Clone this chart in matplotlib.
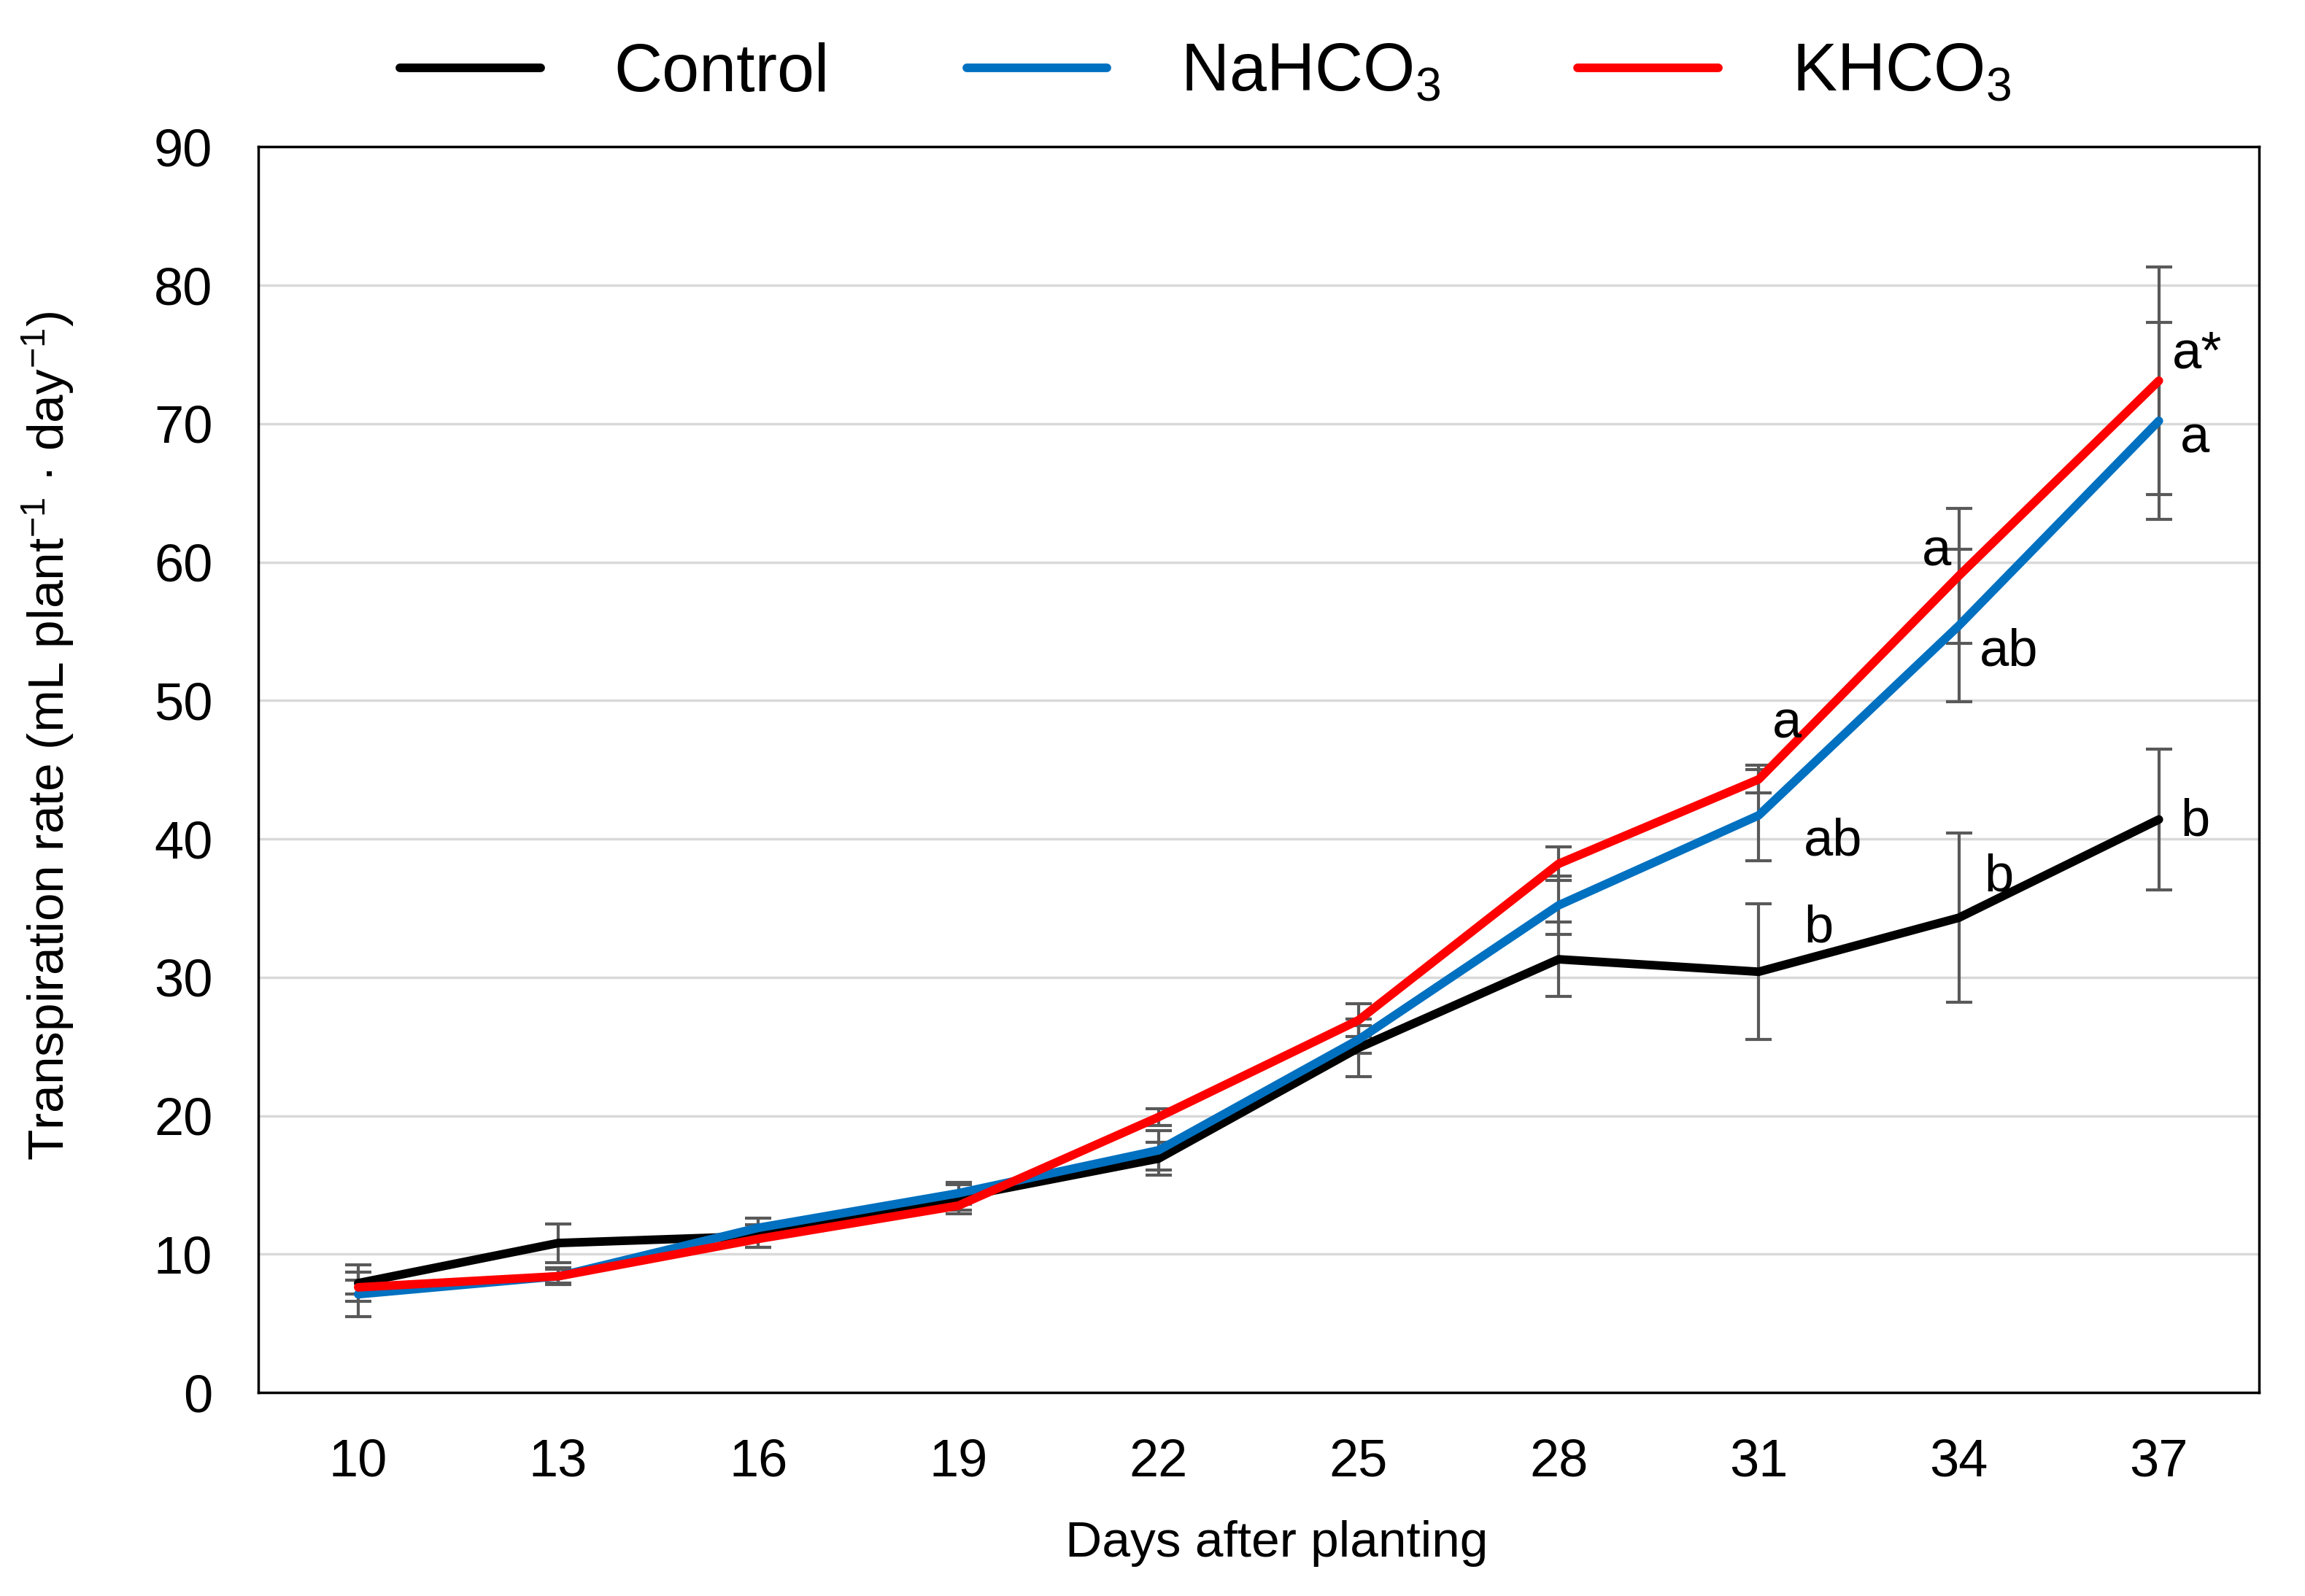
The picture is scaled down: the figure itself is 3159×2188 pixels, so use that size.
import matplotlib
matplotlib.use("Agg")
import matplotlib.pyplot as plt
import numpy as np

plt.rcParams['font.family'] = ['Liberation Sans', 'DejaVu Sans']
plt.rcParams['mathtext.fontset'] = 'custom'
plt.rcParams['mathtext.rm'] = 'Liberation Sans'
plt.rcParams['mathtext.it'] = 'Liberation Sans:italic'

days = [10, 13, 16, 19, 22, 25, 28, 31, 34, 37]

control = [7.9, 10.8, 11.3, 14.1, 16.9, 24.9, 31.3, 30.4, 34.3, 41.4]
control_sd = [1.3, 1.4, 0.8, 0.9, 1.2, 2.1, 2.7, 4.9, 6.1, 5.1]

nahco3 = [7.1, 8.4, 11.9, 14.4, 17.5, 25.5, 35.2, 41.7, 55.4, 70.2]
nahco3_sd = [1.6, 0.6, 0.7, 0.8, 1.4, 1.0, 2.1, 3.3, 5.5, 7.1]

khco3 = [7.6, 8.4, 11.1, 13.5, 19.9, 26.9, 38.2, 44.3, 59.0, 73.1]
khco3_sd = [0.5, 0.5, 0.6, 0.6, 0.6, 1.2, 1.2, 1.0, 4.9, 8.2]

# significance letters: (text, x in days, y)
letters = [
    ("a*", 37.57, 75.0),
    ("a", 37.54, 68.9),
    ("a", 33.67, 60.7),
    ("ab", 34.75, 53.5),
    ("a", 31.42, 48.3),
    ("ab", 32.11, 39.8),
    ("b", 31.9, 33.5),
    ("b", 34.6, 37.2),
    ("b", 37.54, 41.2),
]

fig = plt.figure(figsize=(31.59, 21.88), dpi=100)
ax = fig.add_axes([0.112, 0.1275, 0.868, 0.7805])

series = [
    ("Control", control, control_sd, "black"),
    ("NaHCO$_3$", nahco3, nahco3_sd, "#0070c0"),
    ("KHCO$_3$", khco3, khco3_sd, "#ff0000"),
]

for name, vals, sd, col in series:
    ax.errorbar(days, vals, yerr=sd, fmt='none', ecolor='#595959',
                elinewidth=3, capsize=13, capthick=3, zorder=2)
for name, vals, sd, col in series:
    ax.plot(days, vals, color=col, linewidth=8.5, label=name, zorder=3,
            solid_capstyle='round', solid_joinstyle='round')

for txt, xx, yy in letters:
    ax.text(xx, yy, txt, fontsize=52, ha='center', va='center', zorder=4)

ax.set_xlim(8.5, 38.5)
ax.set_ylim(0, 90)
ax.set_xticks(days)
ax.set_yticks(np.arange(0, 91, 10))
ax.tick_params(axis='both', length=0, pad=45, labelsize=52)
ax.yaxis.grid(True, color='#d9d9d9', linewidth=2.5)
ax.set_axisbelow(True)
for sp in ax.spines.values():
    sp.set_linewidth(2.5)
    sp.set_color('black')

ax.set_xlabel("Days after planting", fontsize=50, va='center')
ax.xaxis.set_label_coords(0.509, -0.121)
ax.set_ylabel("Transpiration rate (mL plant$^{-1}$ \u00b7 day$^{-1}$)", fontsize=50, va='center')
ax.yaxis.set_label_coords(-0.105, 0.527)

fig.legend(loc='center', bbox_to_anchor=(0.523, 0.954), ncol=3, frameon=False,
           fontsize=66, handlelength=2.1, handletextpad=1.1, columnspacing=2.05)

fig.savefig("out.png", dpi=100)
